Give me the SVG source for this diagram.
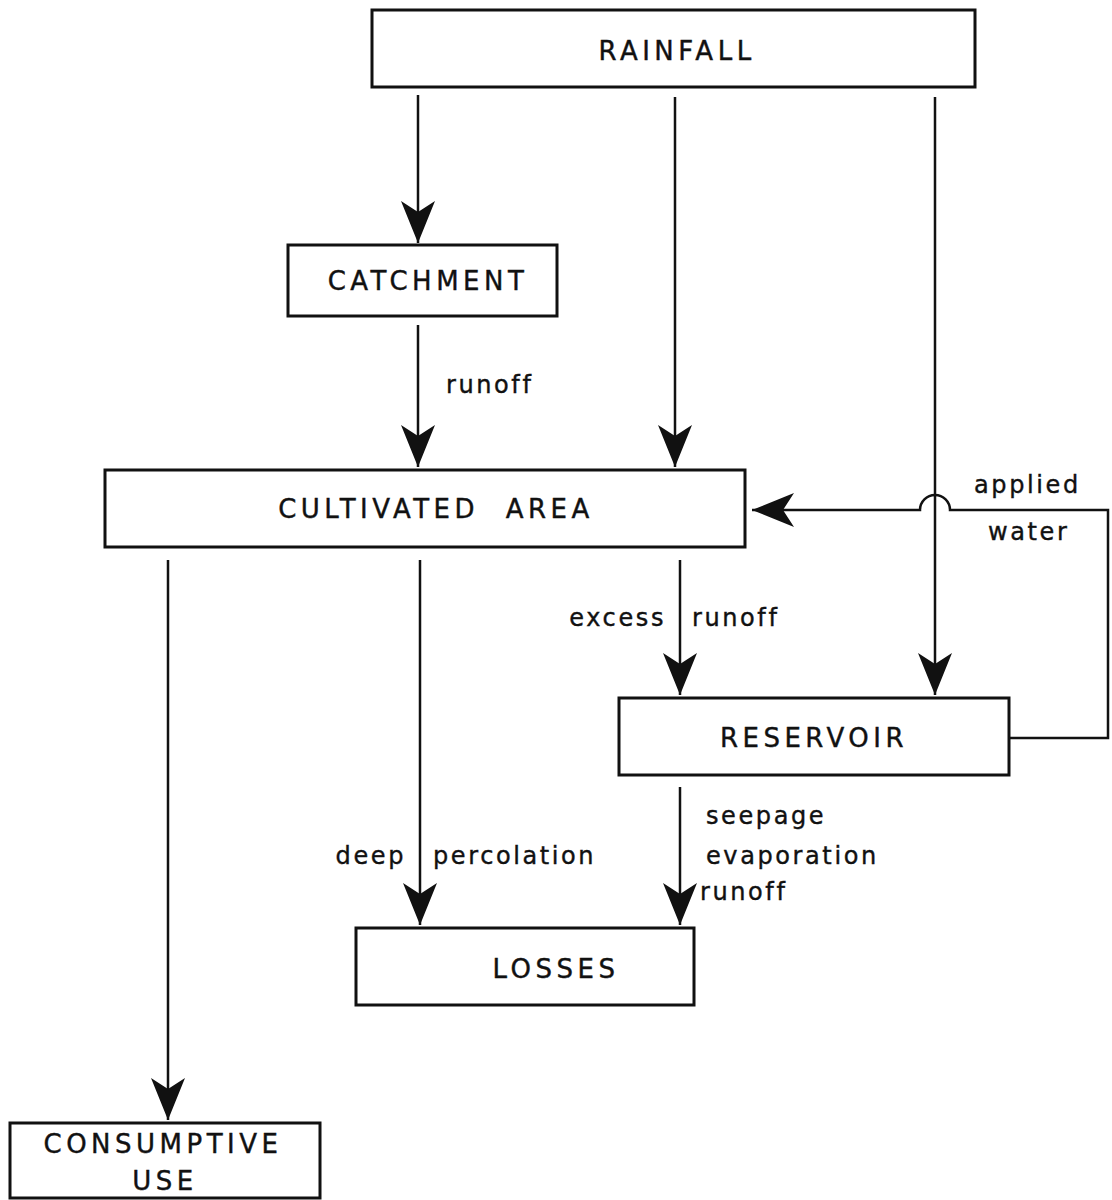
<svg xmlns="http://www.w3.org/2000/svg" width="1112" height="1200" viewBox="0 0 1112 1200">
<style>
.box{fill:#fff;stroke:#111;stroke-width:3}
.nt{font-family:"DejaVu Sans","Liberation Sans",sans-serif;font-size:26px;letter-spacing:4.5px;fill:#111;stroke:#111;stroke-width:0.4;text-anchor:middle}
.lb{font-family:"DejaVu Sans","Liberation Sans",sans-serif;font-size:24px;letter-spacing:2.6px;fill:#111;stroke:#111;stroke-width:0.4}
.ln{fill:none;stroke:#111;stroke-width:2.5}
</style>
<defs>
<marker id="ah" markerUnits="userSpaceOnUse" viewBox="-44 -20 46 40" refX="0" refY="0" markerWidth="46" markerHeight="40" orient="auto">
<path d="M0,0 L-42,-17 L-31,0 L-42,17 Z" fill="#111"/>
</marker>
</defs>
<rect width="1112" height="1200" fill="#fff"/>
<g id="connectors">
<line class="ln" x1="418" y1="95" x2="418" y2="243" marker-end="url(#ah)"/>
<line class="ln" x1="418" y1="325" x2="418" y2="467" marker-end="url(#ah)"/>
<line class="ln" x1="675" y1="97" x2="675" y2="467" marker-end="url(#ah)"/>
<line class="ln" x1="935" y1="97" x2="935" y2="695" marker-end="url(#ah)"/>
<path class="ln" d="M1009,738 L1108,738 L1108,510 L950,510 A15,15 0 0 0 920,510 L752,510" marker-end="url(#ah)"/>
<line class="ln" x1="168" y1="560" x2="168" y2="1120" marker-end="url(#ah)"/>
<line class="ln" x1="420" y1="560" x2="420" y2="925" marker-end="url(#ah)"/>
<line class="ln" x1="680" y1="560" x2="680" y2="695" marker-end="url(#ah)"/>
<line class="ln" x1="680" y1="787" x2="680" y2="925" marker-end="url(#ah)"/>
<text class="lb" x="446" y="393">runoff</text>
<text class="lb" x="974" y="493">applied</text>
<text class="lb" x="988" y="540">water</text>
<text class="lb" x="666" y="626" text-anchor="end">excess</text>
<text class="lb" x="692" y="626">runoff</text>
<text class="lb" x="406" y="864" text-anchor="end">deep</text>
<text class="lb" x="433" y="864">percolation</text>
<text class="lb" x="706" y="824">seepage</text>
<text class="lb" x="706" y="864">evaporation</text>
<text class="lb" x="700" y="900">runoff</text>
</g>
<g id="rainfall"><rect class="box" x="372" y="10" width="603" height="77"/><text class="nt" x="677" y="60">RAINFALL</text></g>
<g id="catchment"><rect class="box" x="288" y="245" width="269" height="71"/><text class="nt" x="428" y="290">CATCHMENT</text></g>
<g id="cultivated"><rect class="box" x="105" y="470" width="640" height="77"/><text class="nt" x="436" y="518" word-spacing="14">CULTIVATED AREA</text></g>
<g id="reservoir"><rect class="box" x="619" y="698" width="390" height="77"/><text class="nt" x="814" y="747">RESERVOIR</text></g>
<g id="losses"><rect class="box" x="356" y="928" width="338" height="77"/><text class="nt" x="556" y="978">LOSSES</text></g>
<g id="consumptive"><rect class="box" x="10" y="1123" width="310" height="75"/><text class="nt" x="163" y="1153">CONSUMPTIVE</text><text class="nt" x="165" y="1190">USE</text></g>
</svg>
